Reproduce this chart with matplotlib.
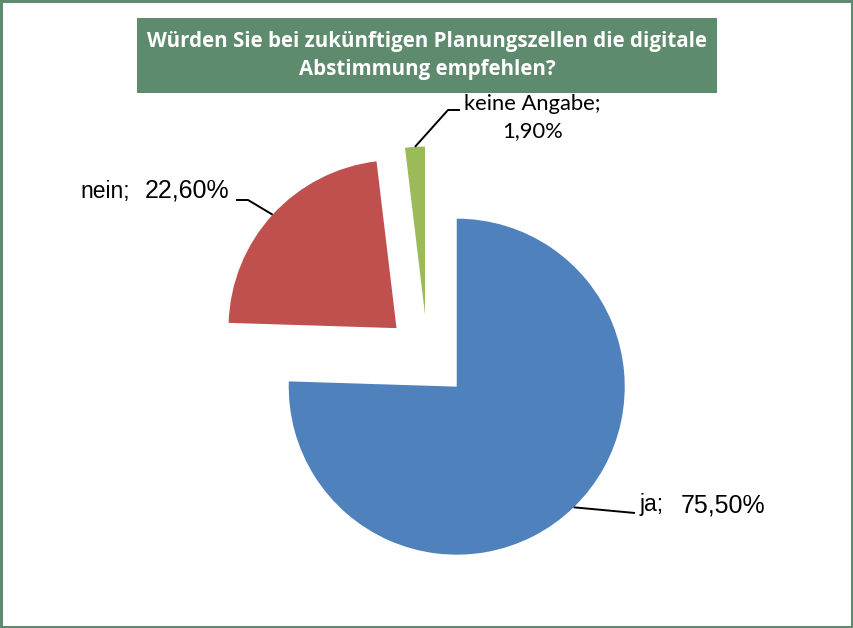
import numpy as np
import matplotlib.pyplot as plt
from matplotlib.patches import Rectangle

categories = ['ja', 'nein', 'keine Angabe']
values = [75.5, 22.6, 1.9]
value_labels = ['75,50%', '22,60%', '1,90%']
colors = ['#4F81BD', '#C0504D', '#9BBB59']
title = 'Würden Sie bei zukünftigen Planungszellen die digitale\nAbstimmung empfehlen?'

W, H = 854, 628
fig = plt.figure(figsize=(W / 100, H / 100), dpi=100)
ax = fig.add_axes([0, 0, 1, 1])

def Y(py):
    return H - py

R = 168
wedges, _ = ax.pie(values, colors=colors, startangle=90, counterclock=False,
                   radius=R, center=(427.5, Y(356.5)), explode=[0.25 * R] * 3,
                   wedgeprops=dict(linewidth=0), frame=True)
ax.set_xlim(0, W)
ax.set_ylim(0, H)
ax.set_aspect('equal')
ax.axis('off')

def arc_mid(w):
    ang = np.deg2rad((w.theta1 + w.theta2) / 2)
    cx, cy = w.center
    return cx + w.r * np.cos(ang), cy + w.r * np.sin(ang)

renderer = fig.canvas.get_renderer()

def fit_width(t, target):
    w = t.get_window_extent(renderer).width
    t.set_fontsize(t.get_fontsize() * target / w)

# border
fig.patches.append(Rectangle((0.001, 0.0015), 0.997, 0.997, transform=fig.transFigure,
                             fill=False, edgecolor='#5E8A6E', linewidth=2.2))

# title box
ax.add_patch(Rectangle((137, Y(93)), 580, 75, facecolor='#5E8A6E', edgecolor='none'))
ax.text(427, Y(55.5), title, ha='center', va='center', color='white',
        fontsize=14.8, fontweight='bold', family='Open Sans', linespacing=1.4)

lc = dict(color='black', linewidth=1.4, solid_capstyle='butt')
# ja
x0, y0 = arc_mid(wedges[0])
ax.plot([x0, 635], [y0, Y(513)], **lc)
ax.text(640, Y(505), categories[0] + ';', ha='left', va='center', fontsize=16.5,
        family='Liberation Sans')
ax.text(681, Y(505), value_labels[0], ha='left', va='center', fontsize=18,
        family='Liberation Sans')
# nein
x1, y1 = arc_mid(wedges[1])
ax.plot([x1, 248, 236], [y1, Y(200), Y(200)], **lc)
ax.text(80, Y(192), categories[1] + ';', ha='left', va='center', fontsize=16.5,
        family='Liberation Sans')
ax.text(145, Y(191), value_labels[1], ha='left', va='center', fontsize=18,
        family='Liberation Sans')
# keine Angabe
x2, y2 = arc_mid(wedges[2])
ax.plot([x2, 448, 460], [y2, Y(110), Y(110)], **lc)
t1 = ax.text(464, Y(104), categories[2] + ';', ha='left', va='center',
             fontsize=15, family='Lato')
fit_width(t1, 137)
t2 = ax.text(533, Y(131), value_labels[2], ha='center', va='center',
             fontsize=t1.get_fontsize(), family='Lato')

fig.savefig('out.png', dpi=100)
